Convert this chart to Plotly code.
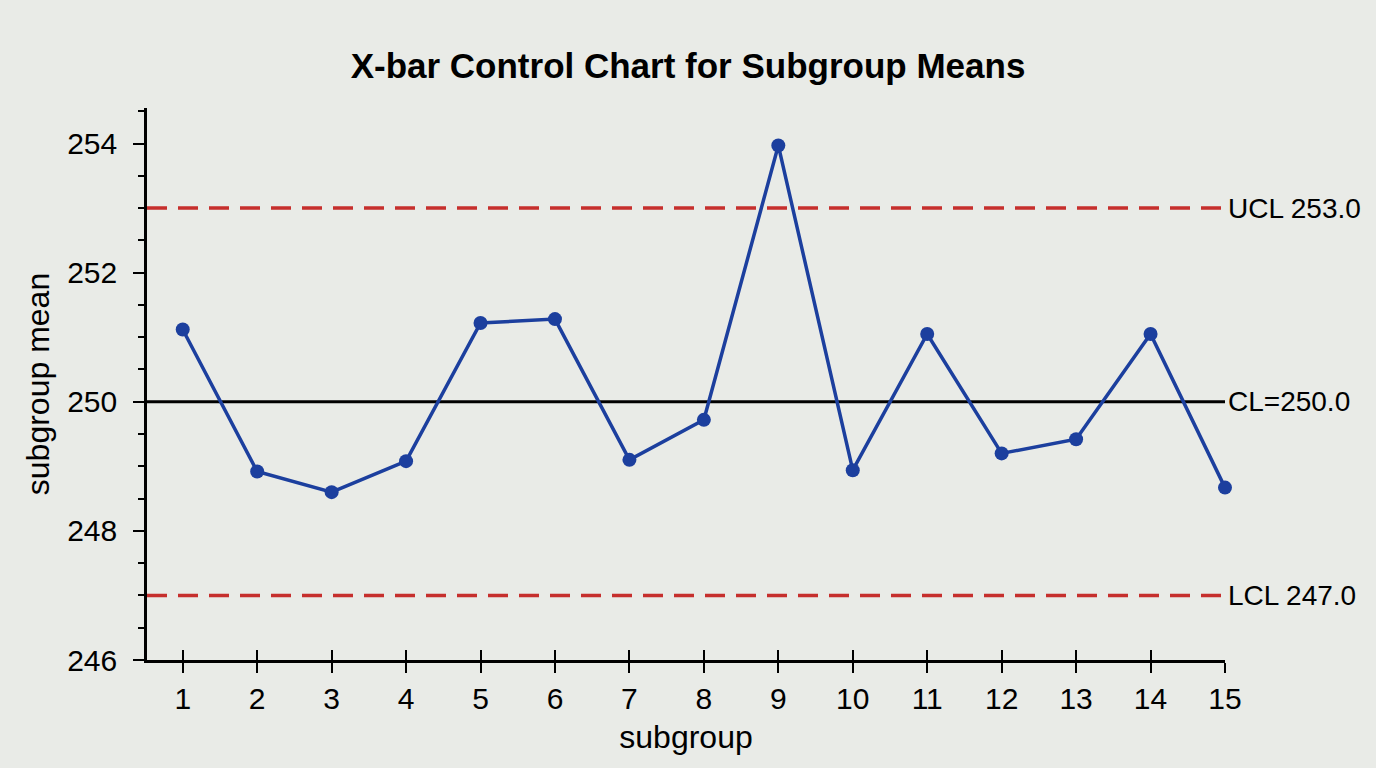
import plotly.graph_objects as go

subgroups = list(range(1, 16))
means = [251.12, 248.92, 248.6, 249.08, 251.22, 251.28, 249.1, 249.72, 253.97,
         248.94, 251.05, 249.2, 249.42, 251.05, 248.67]
cl = 250.0
ucl = 253.0
lcl = 247.0
y_ticks = [246, 248, 250, 252, 254]

font_family = "Liberation Sans, Arial, sans-serif"
red = "#c62f2d"
blue = "#1c3f9e"
bg = "#e9ebe7"

fig = go.Figure()
x0, x1 = 0.52, 15
fig.add_trace(go.Scatter(x=[x0, x1], y=[ucl, ucl], mode="lines",
                         line=dict(color=red, width=3.5, dash="20px,11px"), hoverinfo="skip"))
fig.add_trace(go.Scatter(x=[x0, x1], y=[lcl, lcl], mode="lines",
                         line=dict(color=red, width=3.5, dash="20px,11px"), hoverinfo="skip"))
fig.add_trace(go.Scatter(x=[x0, x1], y=[cl, cl], mode="lines",
                         line=dict(color="black", width=3), hoverinfo="skip"))
fig.add_trace(go.Scatter(x=subgroups, y=means, mode="lines+markers",
                         line=dict(color=blue, width=3.5), cliponaxis=False,
                         marker=dict(color=blue, size=14)))

for val, txt in [(ucl, f"UCL {ucl:.1f}"), (cl, f"CL={cl:.1f}"), (lcl, f"LCL {lcl:.1f}")]:
    fig.add_annotation(x=x1, y=val, xref="x", yref="y", text=txt, showarrow=False,
                       xanchor="left", xshift=1, font=dict(size=28, color="black", family=font_family))

fig.update_layout(
    width=1376, height=768,
    paper_bgcolor=bg, plot_bgcolor=bg,
    margin=dict(l=147, r=151, t=108, b=108),
    showlegend=False,
    title=dict(text="<b>X-bar Control Chart for Subgroup Means</b>", x=0.5, xanchor="center",
               y=0.915, yanchor="middle", font=dict(size=35, color="black", family=font_family)),
    font=dict(family=font_family, color="black"),
    xaxis=dict(range=[x0, x1], tickmode="array", tickvals=subgroups,
               ticks="outside", ticklen=10, tickwidth=2, tickcolor="black",
               showline=True, linecolor="black", linewidth=2.5, showgrid=False, zeroline=False,
               tickfont=dict(size=30), title=dict(text="subgroup", font=dict(size=32), standoff=12)),
    xaxis2=dict(range=[x0, x1], overlaying="x", matches="x", tickmode="array", tickvals=subgroups,
                ticks="inside", ticklen=10, tickwidth=2, tickcolor="black", showticklabels=False,
                showline=False, showgrid=False, zeroline=False, side="bottom"),
    yaxis=dict(range=[246, 254.55], tickmode="array", tickvals=y_ticks,
               ticks="outside", ticklen=11, tickwidth=2, tickcolor="black", ticklabelstandoff=10,
               minor=dict(ticks="outside", dtick=0.5, tick0=246, ticklen=6, tickwidth=2, tickcolor="black"),
               showline=True, linecolor="black", linewidth=2.5, showgrid=False, zeroline=False,
               tickfont=dict(size=30), title=dict(text="subgroup mean", font=dict(size=32), standoff=8)),
)
fig.add_trace(go.Scatter(x=[x0], y=[246], xaxis="x2", mode="markers",
                         marker=dict(opacity=0), hoverinfo="skip"))

fig.write_html("out.html", config={"displayModeBar": False},
               post_script="document.body.style.margin='0';document.body.style.background='" + bg + "';")
